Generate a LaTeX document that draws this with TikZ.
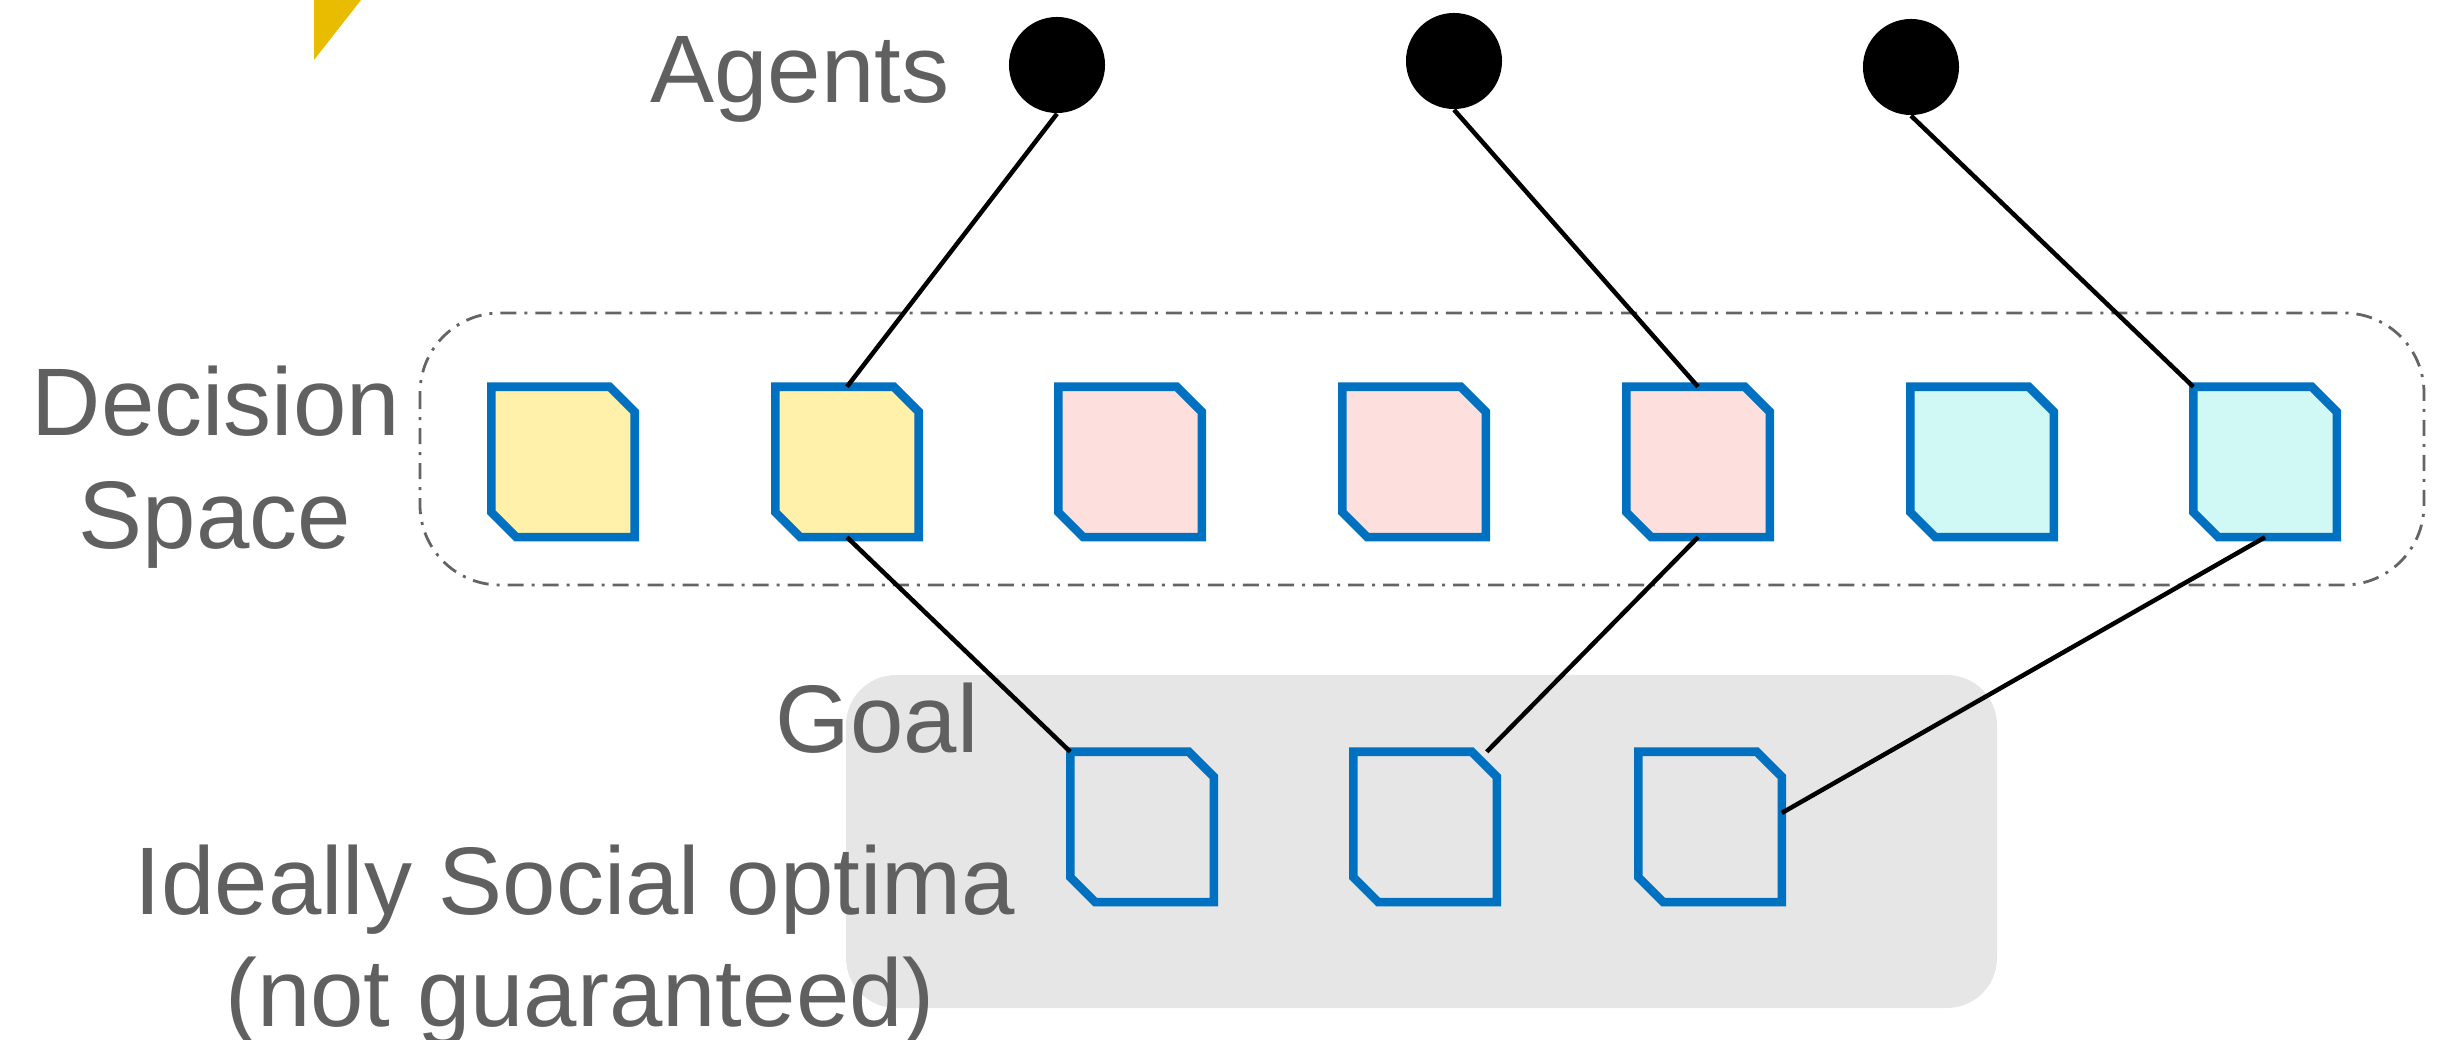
\documentclass[tikz,border=0pt]{standalone}
\usepackage{fontspec}
\setmainfont{Liberation Sans}
\usetikzlibrary{calc}

\definecolor{labelgray}{RGB}{96,96,96}
\definecolor{cellblue}{RGB}{0,112,192}
\definecolor{cellyellow}{RGB}{255,240,170}
\definecolor{cellpink}{RGB}{253,224,222}
\definecolor{cellcyan}{RGB}{208,248,244}
\definecolor{goalgray}{RGB}{230,230,230}
\definecolor{framegray}{RGB}{100,100,100}
\definecolor{markyellow}{RGB}{232,188,0}

\tikzset{
  caption/.style={text=labelgray, font=\fontsize{27.3pt}{33pt}\selectfont, inner sep=0pt, anchor=base},
  agent/.style={circle, fill=black, minimum size=0.96cm, inner sep=0pt},
  cellanchor/.style={rectangle, minimum width=1.42cm, minimum height=1.49cm, inner sep=0pt},
  cellline/.style={draw=cellblue, line width=0.085cm, line join=miter},
  link/.style={draw=black, line width=0.045cm},
  spaceframe/.style={draw=framegray, line width=0.028cm, rounded corners=0.8cm,
    dash pattern=on 0.16cm off 0.08cm on 0.03cm off 0.08cm},
  goalpanel/.style={fill=goalgray, rounded corners=0.5cm},
}

% a square cell with its north-east and south-west corners cut off
\newcommand\chamfercell[3]{%
  \node[cellanchor] (#1) at (#2) {};
  \draw[cellline, fill=#3]
    (#1.north west) -- ([xshift=-0.25cm]#1.north east) -- ([yshift=-0.25cm]#1.north east)
    -- (#1.south east) -- ([xshift=0.25cm]#1.south west) -- ([yshift=0.25cm]#1.south west) -- cycle;
}

\begin{document}
\begin{tikzpicture}[x=0.01cm, y=-0.01cm]
  \useasboundingbox (0,0) rectangle (2444,1040);

  % corner mark
  \fill[markyellow] (314,0) -- (361,0) -- (314,60) -- cycle;

  % goal panel and decision-space frame
  \path[goalpanel] (846,675) rectangle (1997,1008);
  \draw[spaceframe] (420,313) rectangle (2424,585);

  % labels
  \node[caption] (agentslbl) at (800,103) {Agents};
  \node[caption] (declbl) at (216,436) {Decision};
  \node[caption] (spacelbl) at (215,549) {Space};
  \node[caption] (goallbl) at (877,753) {Goal};
  \node[caption] (optlbl) at (575,915) {Ideally Social optima};
  \node[caption] (guarlbl) at (580,1027) {(not guaranteed)};

  % agents
  \node[agent] (a1) at (1057,65) {};
  \node[agent] (a2) at (1454,61) {};
  \node[agent] (a3) at (1911,67) {};

  % decision space
  \chamfercell{d1}{563,462}{cellyellow}
  \chamfercell{d2}{847,462}{cellyellow}
  \chamfercell{d3}{1130,462}{cellpink}
  \chamfercell{d4}{1414,462}{cellpink}
  \chamfercell{d5}{1698,462}{cellpink}
  \chamfercell{d6}{1982,462}{cellcyan}
  \chamfercell{d7}{2265,462}{cellcyan}

  % goal cells
  \chamfercell{g1}{1142,827}{goalgray}
  \chamfercell{g2}{1425,827}{goalgray}
  \chamfercell{g3}{1710,827}{goalgray}

  % connectors
  \draw[link] (a1.south) -- (d2.north);
  \draw[link] (a2.south) -- (d5.north);
  \draw[link] (a3.south) -- (d7.north west);
  \draw[link] (d2.south) -- (g1.north west);
  \draw[link] (d5.south) -- ([xshift=-0.1cm]g2.north east);
  \draw[link] (d7.south) -- ([yshift=0.14cm]g3.east);
\end{tikzpicture}
\end{document}
